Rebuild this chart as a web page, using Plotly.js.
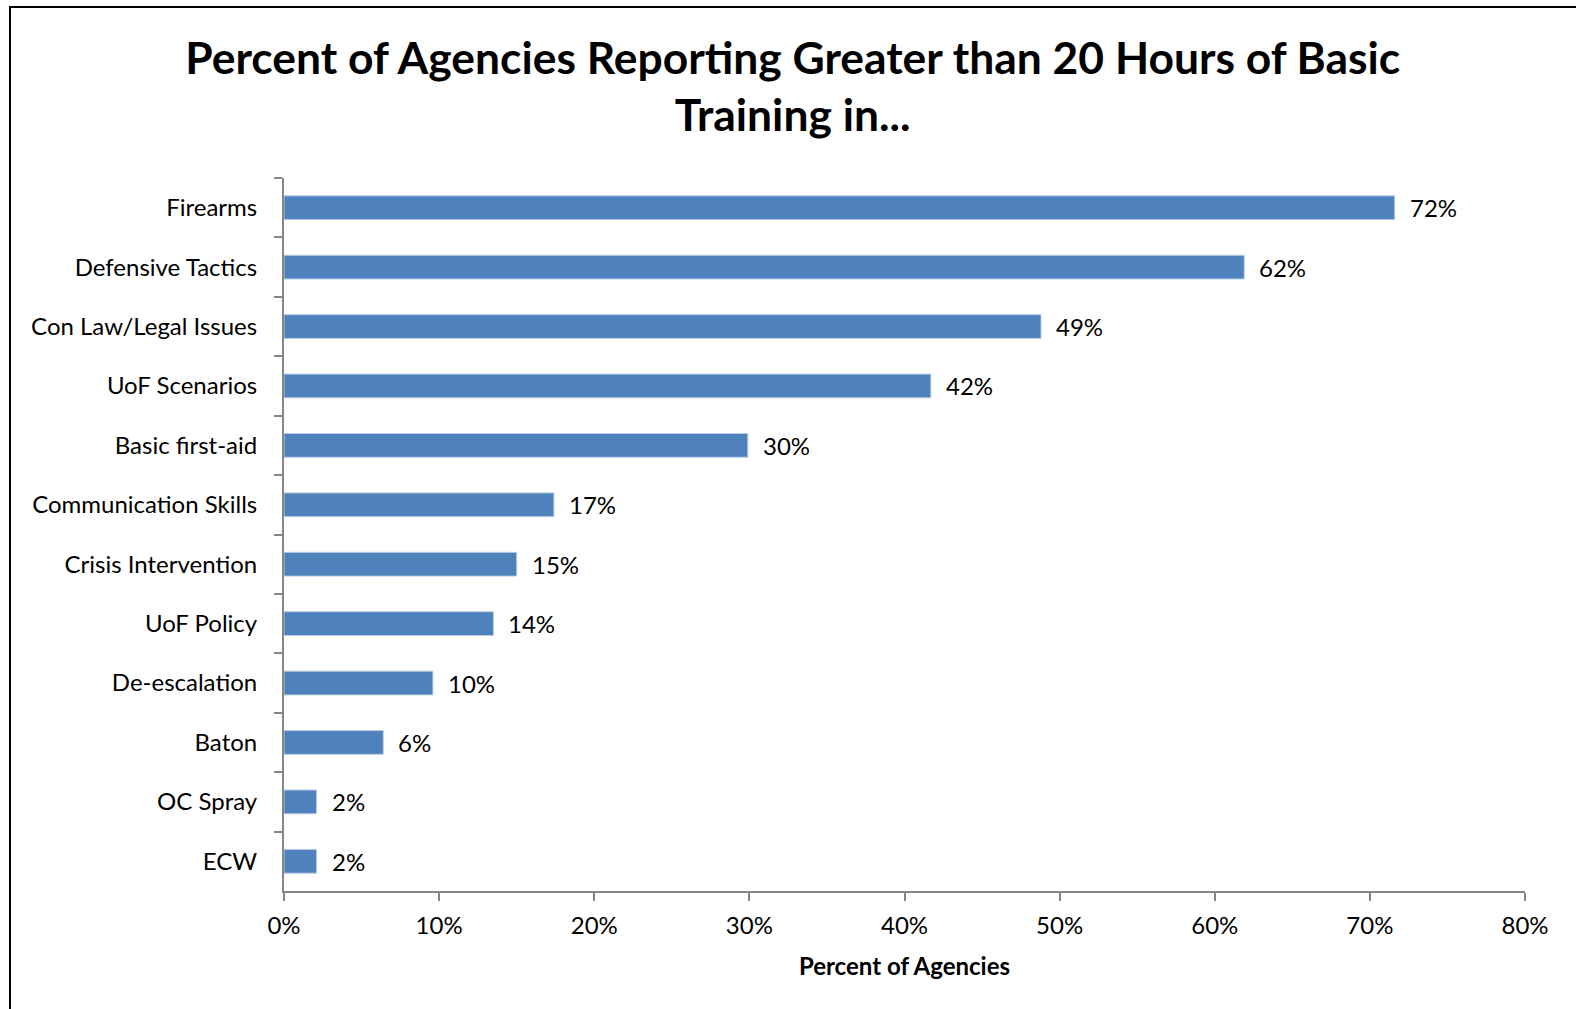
<!DOCTYPE html>
<html>
<head>
<meta charset="utf-8">
<script src="https://cdn.plot.ly/plotly-3.0.1.min.js"></script>
<style>
  html, body { margin: 0; padding: 0; background: #ffffff; }
  #wrap { position: relative; width: 1576px; height: 1009px; overflow: hidden; }
  #chart { position: absolute; left: 0; top: 0; width: 1576px; height: 1009px; }
  #frame { position: absolute; left: 9px; top: 6px; width: 1600px; height: 1100px;
           border-left: 2px solid #000; border-top: 2px solid #000; pointer-events: none; }
</style>
</head>
<body>
<div id="wrap">
  <div id="chart"></div>
  <div id="frame"></div>
</div>
<script>
const categories = [
  "Firearms", "Defensive Tactics", "Con Law/Legal Issues", "UoF Scenarios",
  "Basic first-aid", "Communication Skills", "Crisis Intervention", "UoF Policy",
  "De-escalation", "Baton", "OC Spray", "ECW"
];
const values = [71.6, 61.9, 48.8, 41.7, 29.9, 17.4, 15.0, 13.5, 9.6, 6.4, 2.1, 2.1];
const valueLabels = ["72%", "62%", "49%", "42%", "30%", "17%", "15%", "14%", "10%", "6%", "2%", "2%"];
const tickValues = [0, 10, 20, 30, 40, 50, 60, 70, 80];
const tickLabels = ["0%", "10%", "20%", "30%", "40%", "50%", "60%", "70%", "80%"];
const titleText = "Percent of Agencies Reporting Greater than 20 Hours of Basic<br>Training in...";
const xTitle = "Percent of Agencies";

const FONT = "Lato, 'Open Sans', 'DejaVu Sans', sans-serif";

const trace = {
  type: "bar",
  orientation: "h",
  x: values,
  y: categories,
  marker: { color: "#4F81BD", line: { color: "#B9CDE5", width: 1 } },
  hoverinfo: "skip"
};

const annotations = categories.map((c, i) => ({
  x: values[i], y: c, xref: "x", yref: "y",
  text: valueLabels[i], showarrow: false,
  xanchor: "left", yanchor: "middle", xshift: 13,
  font: { family: FONT, size: 24, color: "#000" }
}));

const layout = {
  width: 1576, height: 1009,
  margin: { l: 283.5, r: 51, t: 178, b: 118 },
  paper_bgcolor: "#ffffff", plot_bgcolor: "#ffffff",
  showlegend: false,
  bargap: 0.6,
  font: { family: FONT, size: 24, color: "#000" },
  title: {
    text: titleText,
    x: 0.503, xref: "container", xanchor: "center",
    y: 0.927, yref: "container", yanchor: "middle",
    font: { family: FONT, size: 44.4, color: "#000", weight: "bold" }
  },
  xaxis: {
    range: [0, 80], tickvals: tickValues, ticktext: tickLabels,
    showgrid: false, zeroline: false,
    showline: true, linecolor: "#868686", linewidth: 2,
    ticks: "outside", ticklen: 8, tickwidth: 2, tickcolor: "#868686",
    ticklabelstandoff: 4,
    tickfont: { family: FONT, size: 24, color: "#000" },
    title: { text: xTitle, standoff: 20, font: { family: FONT, size: 24, color: "#000", weight: "bold" } },
    fixedrange: true
  },
  yaxis: {
    type: "category", autorange: "reversed",
    showgrid: false, zeroline: false,
    showline: true, linecolor: "#868686", linewidth: 2,
    ticks: "outside", tickson: "boundaries", ticklen: 8, tickwidth: 2, tickcolor: "#868686",
    ticklabelstandoff: 20,
    tickfont: { family: FONT, size: 24, color: "#000" },
    fixedrange: true
  },
  annotations: annotations
};

Plotly.newPlot("chart", [trace], layout, { staticPlot: true, displayModeBar: false });
</script>
</body>
</html>
